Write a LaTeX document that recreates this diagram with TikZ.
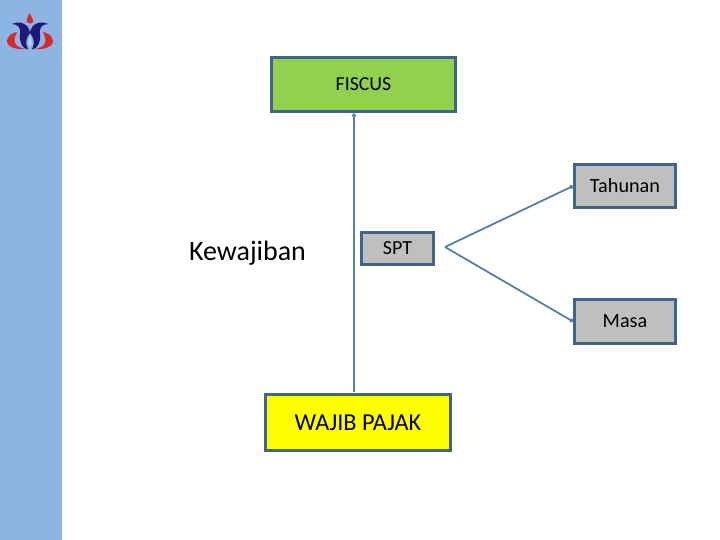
\documentclass[tikz,border=0pt]{standalone}
\usepackage{fontspec}
\setmainfont{Carlito}
\usetikzlibrary{arrows.meta}
\definecolor{sidebar}{HTML}{8DB4E2}
\definecolor{edge}{HTML}{41648A}
\definecolor{conn}{HTML}{5580AC}
\definecolor{boxgreen}{HTML}{92D050}
\definecolor{boxgrey}{HTML}{BFBFBF}
\definecolor{boxyellow}{HTML}{FFFF00}
\definecolor{logored}{HTML}{D8282A}
\definecolor{logoblue}{HTML}{1F1A78}
\tikzset{
  x=1pt,y=-1pt,
  box/.style={draw=edge,line width=3pt,inner sep=0pt,text=black,anchor=north west},
  link/.style={draw=conn,line width=1.8pt},
  tipped/.style={link,-{Circle[length=4pt,width=4pt]}},
}
\begin{document}
\begin{tikzpicture}
\useasboundingbox (0,0) rectangle (720,540);
\fill[white] (0,0) rectangle (720,540);
\fill[sidebar] (0,0) rectangle (62,540);
% logo
\fill[logored] (8,38) .. controls (4,45) and (13,50) .. (25,49) .. controls (15,47) and (12,42) .. (17,32) .. controls (13,33) and (9,35) .. (8,38) -- cycle;
\fill[logored] (52,38) .. controls (56,45) and (47,50) .. (35,49) .. controls (45,47) and (48,42) .. (43,32) .. controls (47,33) and (51,35) .. (52,38) -- cycle;
\fill[logoblue] (12,24) .. controls (19,21) and (24,23) .. (27,26) .. controls (29,28) and (29,30) .. (30,32) .. controls (31,30) and (31,28) .. (33,26) .. controls (36,23) and (41,21) .. (48,24) .. controls (42,24) and (39,28) .. (40,34) .. controls (41,41) and (38,49) .. (32,49.5) .. controls (35,43) and (34,38) .. (30,33) .. controls (26,38) and (25,43) .. (28,49.5) .. controls (22,49) and (19,41) .. (20,34) .. controls (21,28) and (18,24) .. (12,24) -- cycle;
\fill[logored] (29.5,13) .. controls (28,17) and (26,20) .. (27,22) .. controls (28,24) and (32,24) .. (33,22) .. controls (34,20) and (31,17) .. (29.5,13) -- cycle;
\fill[sidebar!60!white] (30,36) .. controls (28,40) and (27.5,44) .. (30,47) .. controls (32.5,44) and (32,40) .. (30,36) -- cycle;
% boxes
\node[box,fill=boxgreen,minimum width=184pt,minimum height=54pt,font=\fontsize{19.8}{22}\selectfont] (fiscus) at (270,56) {\raisebox{-1pt}{FISCUS}};
\node[box,fill=boxyellow,minimum width=185pt,minimum height=56pt,font=\fontsize{24.3}{26}\selectfont] (wajib) at (264,393) {WAJIB PAJAK};
\node[box,fill=boxgrey,minimum width=72pt,minimum height=32pt,font=\fontsize{20}{22}\selectfont] (spt) at (360,231) {SPT};
\node[box,fill=boxgrey,minimum width=101pt,minimum height=43pt,font=\fontsize{20.2}{22}\selectfont] (tahunan) at (573,163) {Tahunan};
\node[box,fill=boxgrey,minimum width=101pt,minimum height=44pt,font=\fontsize{20.2}{22}\selectfont] (masa) at (573,298) {Masa};
\node[inner sep=0pt,font=\fontsize{28}{30}\selectfont] (kewajiban) at (247.5,253.5) {Kewajiban};
% connectors
\coordinate (fork) at (445,247);
\coordinate (vtop) at (354,113.5);
\coordinate (vbot) at (354,392);
\draw[tipped] (vbot) -- (vtop);
\draw[tipped] (fork) -- (tahunan.west);
\draw[tipped] (fork) -- (masa.west);
\end{tikzpicture}
\end{document}
